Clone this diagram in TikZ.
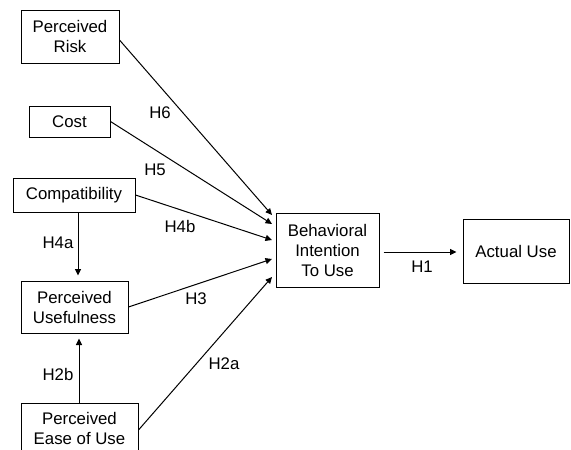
\documentclass[tikz,border=0pt]{standalone}
\usepackage{fontspec}
\setmainfont{Liberation Sans}
\usetikzlibrary{arrows.meta}
\begin{document}
\begin{tikzpicture}[x=1pt,y=-1pt,
  box/.style={draw,line width=1pt,align=center,inner sep=0pt,font=\fontsize{16.8}{20}\selectfont},
  lbl/.style={font=\fontsize{16.8}{20}\selectfont,inner sep=0pt},
  arr/.style={line width=1pt,-{Triangle[length=6.5pt,width=6pt]}}]
\useasboundingbox (0,0) rectangle (571,450);
\clip (0,0) rectangle (571,450);
\node[box,minimum width=98pt,minimum height=53pt] (risk) at (70,36.5) {Perceived\\Risk};
\node[box,minimum width=81pt,minimum height=31pt] (cost) at (69.5,121.5) {Cost};
\node[box,minimum width=122pt,minimum height=34pt] (compat) at (74,195) {Compatibility};
\node[box,minimum width=107pt,minimum height=52pt] (pu) at (74.5,307) {Perceived\\Usefulness};
\node[box,minimum width=117pt,minimum height=50pt] (peu) at (79.5,428) {Perceived\\Ease of Use};
\node[box,minimum width=103pt,minimum height=74pt] (bi) at (327.5,250) {Behavioral\\Intention\\To Use};
\node[box,minimum width=106pt,minimum height=64pt] (au) at (516,251) {Actual Use};
\coordinate (e1) at (272,215);
\coordinate (e2) at (272,224);
\coordinate (e3) at (272,240);
\coordinate (e4) at (272,259);
\coordinate (e5) at (272,277);
\draw[arr] ([yshift=-3.5pt]risk.east) -- (e1);
\draw[arr] (cost.east) -- (e2);
\draw[arr] (compat.east) -- (e3);
\draw[arr] (pu.east) -- (e4);
\draw[arr] ([yshift=-2pt]peu.east) -- (e5);
\draw[arr,shorten >=5pt] ([xshift=4pt]compat.south) -- ([xshift=3.5pt]pu.north);
\draw[arr,shorten >=5pt] ([xshift=-0.5pt]peu.north) -- ([xshift=4.5pt]pu.south);
\draw[arr,shorten <=4pt,shorten >=6pt] ([yshift=-2pt]bi.east) -- ([yshift=-1pt]au.west);
\node[lbl] (h6) at (160,113) {H6};
\node[lbl] (h5) at (155,170) {H5};
\node[lbl] (h4b) at (180,226) {H4b};
\node[lbl] (h4a) at (58,243) {H4a};
\node[lbl] (h3) at (196,299) {H3};
\node[lbl] (h2b) at (58,374) {H2b};
\node[lbl] (h2a) at (224,364) {H2a};
\node[lbl] (h1) at (422,267) {H1};
\end{tikzpicture}
\end{document}
